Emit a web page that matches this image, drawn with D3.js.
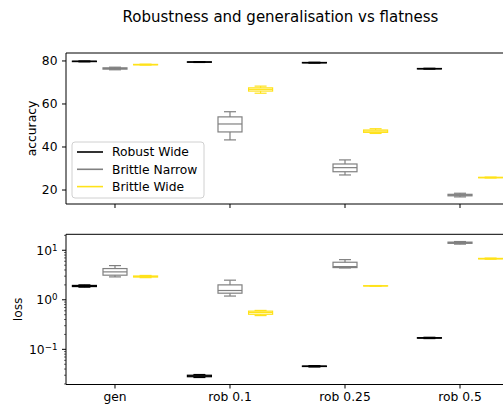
<!DOCTYPE html>
<html>
<head>
<meta charset="utf-8">
<script src="https://cdn.jsdelivr.net/npm/d3@7"></script>
<style>
  body { margin: 0; background: #fff; }
  svg text { font-family: "DejaVu Sans", sans-serif; }
</style>
</head>
<body>
<div id="chart"></div>
<script>
// categories and series
var categories = ["gen", "rob 0.1", "rob 0.25", "rob 0.5"];
var seriesNames = ["Robust Wide", "Brittle Narrow", "Brittle Wide"];
var seriesColors = ["#000000", "#808080", "#ffe21a"];

// [whisker low, q1, median, q3, whisker high] per category
var accRobustWide = [[79.6,79.7,79.8,79.9,80.0],[79.3,79.4,79.5,79.6,79.7],[79.0,79.1,79.2,79.3,79.4],[76.2,76.3,76.4,76.5,76.6]];
var accBrittleNarrow = [[75.9,76.2,76.5,76.8,77.1],[43.3,47.0,50.7,54.0,56.4],[27.0,28.5,30.4,32.1,34.0],[16.8,17.3,17.6,18.0,18.5]];
var accBrittleWide = [[78.1,78.2,78.3,78.4,78.5],[65.0,66.0,66.8,67.5,68.3],[46.3,46.8,47.4,47.9,48.5],[25.6,25.7,25.8,25.9,26.0]];

var lossRobustWide = [[1.8,1.85,1.9,1.95,2.0],[0.027,0.028,0.029,0.030,0.031],[0.044,0.045,0.0455,0.046,0.047],[0.165,0.168,0.17,0.172,0.175]];
var lossBrittleNarrow = [[2.9,3.14,3.66,4.27,4.9],[1.19,1.36,1.54,2.0,2.49],[4.4,4.47,4.68,5.73,6.47],[13.3,13.8,14.2,14.6,15.0]];
var lossBrittleWide = [[2.8,2.88,2.95,3.02,3.1],[0.48,0.51,0.555,0.59,0.61],[1.88,1.9,1.91,1.92,1.94],[6.6,6.7,6.77,6.85,6.95]];

var accTicks = [20, 40, 60, 80];
var lossTicks = [0.1, 1, 10];
var lossTickLabels = ["\u22121", "0", "1"];

var W = 503, H = 404;
var FS = "12.3px";
var svg = d3.select("#chart").append("svg").attr("width", W).attr("height", H);

var left = 66, right = 509;
var x = d3.scaleLinear().domain([-0.426, 3.426]).range([left, right]);
var offset = 0.266, boxW = 24;

var yAcc = d3.scaleLinear().domain([13.5, 83.7]).range([204, 53]);
var yLoss = d3.scaleLog().domain([0.0195, 21]).range([384.5, 234.3]);

svg.append("text").attr("x", 280.5).attr("y", 21.5).attr("text-anchor", "middle")
  .style("font-size", "15px").text("Robustness and generalisation vs flatness");

function drawBoxes(g, data, y, si) {
  var c = seriesColors[si];
  data.forEach(function(d, ci) {
    var cx = x(ci + (si - 1) * offset);
    var bg = g.append("g").attr("stroke", c).attr("stroke-width", 1.2).attr("fill", "none");
    bg.append("line").attr("x1", cx).attr("x2", cx).attr("y1", y(d[0])).attr("y2", y(d[1]));
    bg.append("line").attr("x1", cx).attr("x2", cx).attr("y1", y(d[3])).attr("y2", y(d[4]));
    bg.append("line").attr("x1", cx - boxW / 4).attr("x2", cx + boxW / 4).attr("y1", y(d[0])).attr("y2", y(d[0]));
    bg.append("line").attr("x1", cx - boxW / 4).attr("x2", cx + boxW / 4).attr("y1", y(d[4])).attr("y2", y(d[4]));
    bg.append("rect").attr("x", cx - boxW / 2).attr("width", boxW)
      .attr("y", y(d[3])).attr("height", y(d[1]) - y(d[3]));
    bg.append("line").attr("x1", cx - boxW / 2).attr("x2", cx + boxW / 2).attr("y1", y(d[2])).attr("y2", y(d[2]));
  });
}

function frame(g, y, top, bottom) {
  g.append("line").attr("x1", left).attr("x2", right + 1).attr("y1", top).attr("y2", top).attr("stroke", "#000");
  g.append("line").attr("x1", left).attr("x2", left).attr("y1", top).attr("y2", bottom).attr("stroke", "#000");
  g.append("line").attr("x1", left).attr("x2", right + 1).attr("y1", bottom).attr("y2", bottom).attr("stroke", "#000");
  categories.forEach(function(c, i) {
    g.append("line").attr("x1", x(i)).attr("x2", x(i)).attr("y1", bottom).attr("y2", bottom + 4).attr("stroke", "#000");
  });
}

// top panel: accuracy
var gTop = svg.append("g");
drawBoxes(gTop, accRobustWide, yAcc, 0);
drawBoxes(gTop, accBrittleNarrow, yAcc, 1);
drawBoxes(gTop, accBrittleWide, yAcc, 2);
frame(gTop, yAcc, 53, 204);
accTicks.forEach(function(t) {
  gTop.append("line").attr("x1", left - 4).attr("x2", left).attr("y1", yAcc(t)).attr("y2", yAcc(t)).attr("stroke", "#000");
  gTop.append("text").attr("x", left - 8.5).attr("y", yAcc(t)).attr("dy", "0.35em")
    .attr("text-anchor", "end").style("font-size", FS).text(t);
});
gTop.append("text").attr("transform", "translate(35.5," + (53 + 204) / 2 + ") rotate(-90)")
  .attr("text-anchor", "middle").style("font-size", FS).text("accuracy");

// legend
var lg = svg.append("g").attr("transform", "translate(72,142)");
lg.append("rect").attr("width", 132).attr("height", 56).attr("rx", 3)
  .attr("fill", "#fff").attr("fill-opacity", 0.8).attr("stroke", "#d0d0d0");
seriesNames.forEach(function(n, i) {
  var yy = 10 + i * 17.3;
  lg.append("line").attr("x1", 5).attr("x2", 31).attr("y1", yy).attr("y2", yy)
    .attr("stroke", seriesColors[i]).attr("stroke-width", 1.6);
  lg.append("text").attr("x", 40).attr("y", yy).attr("dy", "0.35em").style("font-size", FS).text(n);
});

// bottom panel: loss
var gBot = svg.append("g");
drawBoxes(gBot, lossRobustWide, yLoss, 0);
drawBoxes(gBot, lossBrittleNarrow, yLoss, 1);
drawBoxes(gBot, lossBrittleWide, yLoss, 2);
frame(gBot, yLoss, 234.3, 384.5);
[0.01, 0.1, 1, 10].forEach(function(dec) {
  for (var k = 2; k <= 9; k++) {
    var v = dec * k;
    if (v < 0.0195 || v > 21) continue;
    gBot.append("line").attr("x1", left - 2).attr("x2", left).attr("y1", yLoss(v)).attr("y2", yLoss(v)).attr("stroke", "#000").attr("stroke-width", 0.6);
  }
});
lossTicks.forEach(function(t, i) {
  gBot.append("line").attr("x1", left - 4).attr("x2", left).attr("y1", yLoss(t)).attr("y2", yLoss(t)).attr("stroke", "#000");
  var tx = gBot.append("text").attr("x", left - 8.5).attr("y", yLoss(t)).attr("dy", "0.35em")
    .attr("text-anchor", "end").style("font-size", FS);
  tx.append("tspan").text("10");
  tx.append("tspan").attr("dy", "-0.45em").style("font-size", "8.7px").text(lossTickLabels[i]);
});
gBot.append("text").attr("transform", "translate(22," + (234.3 + 384.5) / 2 + ") rotate(-90)")
  .attr("text-anchor", "middle").style("font-size", FS).text("loss");
categories.forEach(function(c, i) {
  gBot.append("text").attr("x", x(i)).attr("y", 400.5).attr("text-anchor", "middle")
    .style("font-size", FS).text(c);
});
</script>
</body>
</html>
